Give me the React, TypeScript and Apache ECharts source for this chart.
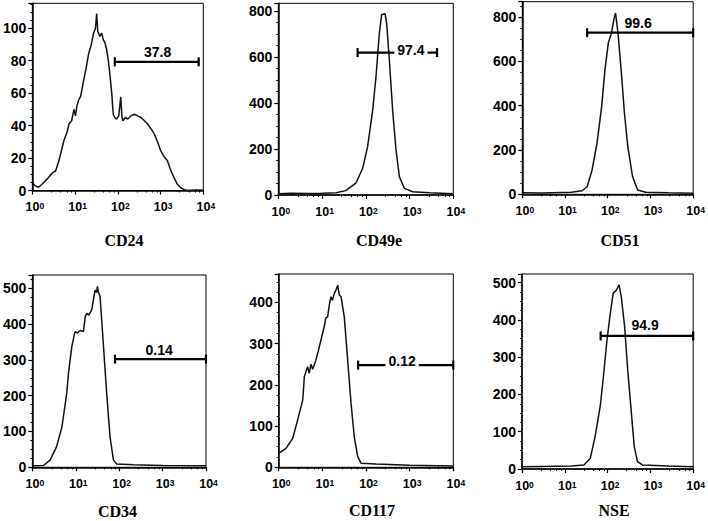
import { useEffect, useRef } from "react";
import * as echarts from "echarts";

// ---- data ----
const panelNames = ["CD24", "CD49e", "CD51", "CD34", "CD117", "NSE"];
const xTickExponents = [0, 1, 2, 3, 4];
const yMax = [115.4, 833, 870, 537, 469, 523];
const yInterval = [20, 200, 200, 100, 100, 100];

const cd24X = [1, 1.15, 1.4, 1.7, 2.2, 2.96, 3.5, 4.2, 5.5, 6.5, 7.2, 8.3, 9.4, 10.2, 11, 12.2, 13.5, 15.9, 18, 20.8, 24, 27, 30, 32, 34, 38, 42, 45.7, 50, 54.6, 60, 65, 72, 78, 85, 93, 105, 117, 125, 132, 150, 172, 200, 245, 290, 350, 420, 498, 600, 708, 850, 1000, 1200, 1440, 1700, 2040, 2450, 2890, 3400, 3800, 5000, 7000, 10000];
const cd24Y = [5, 3, 2, 4, 7, 11, 12, 18.5, 31, 36, 41, 43, 50, 46, 52, 56, 58, 68, 75, 84.5, 90, 97, 100, 109, 98, 95, 97, 93, 91, 87, 80, 72, 60, 47, 45, 44, 46, 57.7, 45, 43, 45, 44, 46, 47, 46, 45, 43, 41, 38, 35, 30, 24.7, 21, 18.5, 13, 8.2, 4, 2, 0.8, 0.3, 0.2, 0.3, 0.2];

const cd49eX = [1, 2, 5, 10, 21, 35, 60, 85, 110, 144, 171, 204, 230, 275, 300, 345, 410, 490, 585, 760, 1180, 2830, 10000];
const cd49eY = [5, 8, 7, 8, 10, 19, 53, 116, 210, 370, 514, 703, 783, 788, 746, 587, 370, 196, 80, 29, 14, 10, 5];

const cd51X = [1, 3, 8, 14, 25, 33, 43, 56, 72, 86, 103, 122, 141, 152, 174, 209, 246, 295, 381, 500, 775, 2630, 10000];
const cd51Y = [7, 6, 8, 9, 16, 34, 110, 230, 396, 562, 683, 728, 796, 818, 728, 547, 366, 215, 80, 19, 9, 7, 5];

const cd34X = [1, 1.8, 2.56, 3.6, 4.8, 6.2, 6.8, 8.1, 9.6, 11, 12.6, 15, 16.5, 17.9, 20, 23.4, 27.7, 30, 31.6, 33, 36.3, 43, 51.5, 61.6, 73.7, 87.6, 213, 1000, 10000];
const cd34Y = [4.5, 5, 20, 57, 113, 207, 263, 337, 379, 375, 382, 379, 420, 430, 425, 440, 495, 488, 505, 490, 477, 347, 207, 85, 20, 9, 7, 5, 4];

const cd117X = [1, 1.47, 2.09, 2.72, 3.55, 3.87, 4.2, 4.6, 5.0, 5.5, 6.0, 7.1, 8.2, 9.3, 11, 12, 13.2, 14.5, 15.8, 17, 18.8, 20.5, 22.5, 24.5, 26.8, 31.8, 38, 45.4, 53.9, 64.6, 77, 170, 1000, 10000];
const cd117Y = [34, 46, 70, 115, 163, 220, 232, 244, 228, 250, 238, 260, 285, 309, 341, 362, 365, 395, 414, 405, 422, 430, 442, 418, 414, 365, 260, 155, 74, 26, 10, 8, 5, 3];

const nseX = [1, 3, 14, 28, 39.5, 51, 67, 80, 95, 113, 135, 161, 185, 209, 250, 295, 355, 420, 500, 650, 2630, 10000];
const nseY = [6, 7, 8, 11, 29, 87, 167, 248, 337, 409, 471, 480, 494, 462, 382, 266, 158, 60, 20, 11, 8, 6];

const histX = [cd24X, cd49eX, cd51X, cd34X, cd117X, nseX];
const histY = [cd24Y, cd49eY, cd51Y, cd34Y, cd117Y, nseY];

const gateStart = [85, 65, 33, 80, 66, 69];
const gateEnd = [7800, 4250, 10000, 10000, 10000, 10000];
const gateLevel = [79.3, 619, 730, 302, 248, 357];
const gateLabels = ["37.8", "97.4", "99.6", "0.14", "0.12", "94.9"];
const gateLabelX = [850, 1075, 515, 830, 675, 755];

// ---- layout (style) ----
const grids = [
  { left: 29.5, top: 3.3, width: 173.8, height: 187.2 },
  { left: 278.3, top: 3.3, width: 175, height: 191.7 },
  { left: 522.3, top: 1.7, width: 175, height: 192.6 },
  { left: 32.3, top: 275, width: 173.7, height: 192.3 },
  { left: 278.7, top: 274, width: 174.6, height: 193.3 },
  { left: 522, top: 274, width: 175.3, height: 195 },
];
const titlePos = [
  [124, 240],
  [379, 240],
  [620, 240],
  [117.5, 511],
  [372, 510],
  [614, 510],
];
const labelStyles: any[] = [
  { position: "top", distance: 3 },
  { position: "inside", offset: [0, -3], backgroundColor: "#fff", padding: [0, 3, 0, 3] },
  { position: "top", distance: 3 },
  { position: "top", distance: 2 },
  { position: "inside", offset: [0, -4], backgroundColor: "#fff", padding: [0, 3, 8, 3] },
  { position: "top", distance: 4 },
];

const SANS = '"Liberation Sans", Arial, sans-serif';

export default function App() {
  const ref = useRef<HTMLDivElement>(null);
  useEffect(() => {
    document.body.style.margin = "0";
    const chart = echarts.init(ref.current!, null, { renderer: "svg" });
    const xAxis: any[] = [];
    const yAxis: any[] = [];
    const series: any[] = [];
    for (let i = 0; i < 6; i++) {
      xAxis.push({
        gridIndex: i,
        type: "log",
        logBase: 10,
        min: 1,
        max: 10000,
        splitNumber: 4,
        axisLine: { show: true, lineStyle: { color: "#000", width: 1.5 } },
        axisTick: { show: true, length: 4, lineStyle: { color: "#000", width: 1.2 } },
        minorTick: { show: true, splitNumber: 5, length: 2, lineStyle: { color: "#000", width: 1 } },
        splitLine: { show: false },
        axisLabel: {
          margin: 11,
          color: "#000",
          formatter: (v: number) => {
            const e = Math.round(Math.log10(v));
            if (!xTickExponents.includes(e)) return "";
            return `{p|}{b|10}{s|${e}}`;
          },
          rich: {
            p: { width: 5 },
            b: { fontSize: 12.5, fontWeight: "bold", fontFamily: SANS, color: "#000", lineHeight: 12, verticalAlign: "bottom" },
            s: { fontSize: 8.5, fontWeight: "bold", fontFamily: SANS, color: "#000", lineHeight: 8, padding: [0, 0, 8, 0], verticalAlign: "top" },
          },
        },
      });
      const iv = yInterval[i];
      yAxis.push({
        gridIndex: i,
        type: "value",
        min: 0,
        max: yMax[i],
        interval: iv,
        axisLine: { show: true, lineStyle: { color: "#000", width: 1.5 } },
        axisTick: { show: true, length: 4, lineStyle: { color: "#000", width: 1.2 } },
        minorTick: { show: true, splitNumber: 4, length: 2, lineStyle: { color: "#000", width: 1 } },
        splitLine: { show: false },
        axisLabel: {
          margin: 6,
          color: "#000",
          fontSize: 14,
          fontWeight: "bold",
          fontFamily: SANS,
          showMaxLabel: false,
          formatter: (v: number) => (Math.abs(v / iv - Math.round(v / iv)) < 1e-6 ? String(v) : ""),
        },
      });
      series.push({
        type: "line",
        xAxisIndex: i,
        yAxisIndex: i,
        data: histX[i].map((x, k) => [x, histY[i][k]]),
        showSymbol: false,
        symbol: "none",
        lineStyle: { color: "#111", width: 1.5 },
        silent: true,
        z: 2,
      });
      series.push({
        type: "line",
        xAxisIndex: i,
        yAxisIndex: i,
        data: [
          [gateStart[i], gateLevel[i]],
          [gateEnd[i], gateLevel[i]],
        ],
        symbol: "rect",
        symbolSize: [2.2, 9],
        showSymbol: true,
        itemStyle: { color: "#000" },
        lineStyle: { color: "#000", width: 2.2 },
        silent: true,
        clip: false,
        z: 3,
      });
      series.push({
        type: "scatter",
        xAxisIndex: i,
        yAxisIndex: i,
        data: [[gateLabelX[i], gateLevel[i]]],
        symbolSize: 0,
        itemStyle: { opacity: 1, color: "#000" },
        silent: true,
        z: 5,
        label: {
          show: true,
          formatter: gateLabels[i],
          color: "#000",
          opacity: 1,
          textBorderWidth: 0,
          fontSize: 14,
          fontWeight: "bold",
          fontFamily: SANS,
          ...labelStyles[i],
        },
      });
    }
    chart.setOption({
      animation: false,
      backgroundColor: "#fff",
      grid: grids.map((g) => ({ ...g, show: true, borderColor: "#000", borderWidth: 1, backgroundColor: "transparent" })),
      xAxis,
      yAxis,
      series,
      graphic: panelNames.map((n, i) => ({
        type: "text",
        x: titlePos[i][0],
        y: titlePos[i][1],
        style: {
          text: n,
          font: 'bold 16px "Liberation Serif", "Times New Roman", serif',
          fill: "#000",
          align: "center",
          verticalAlign: "middle",
        },
      })),
    });
    return () => chart.dispose();
  }, []);
  return <div ref={ref} style={{ width: 708, height: 521 }} />;
}
